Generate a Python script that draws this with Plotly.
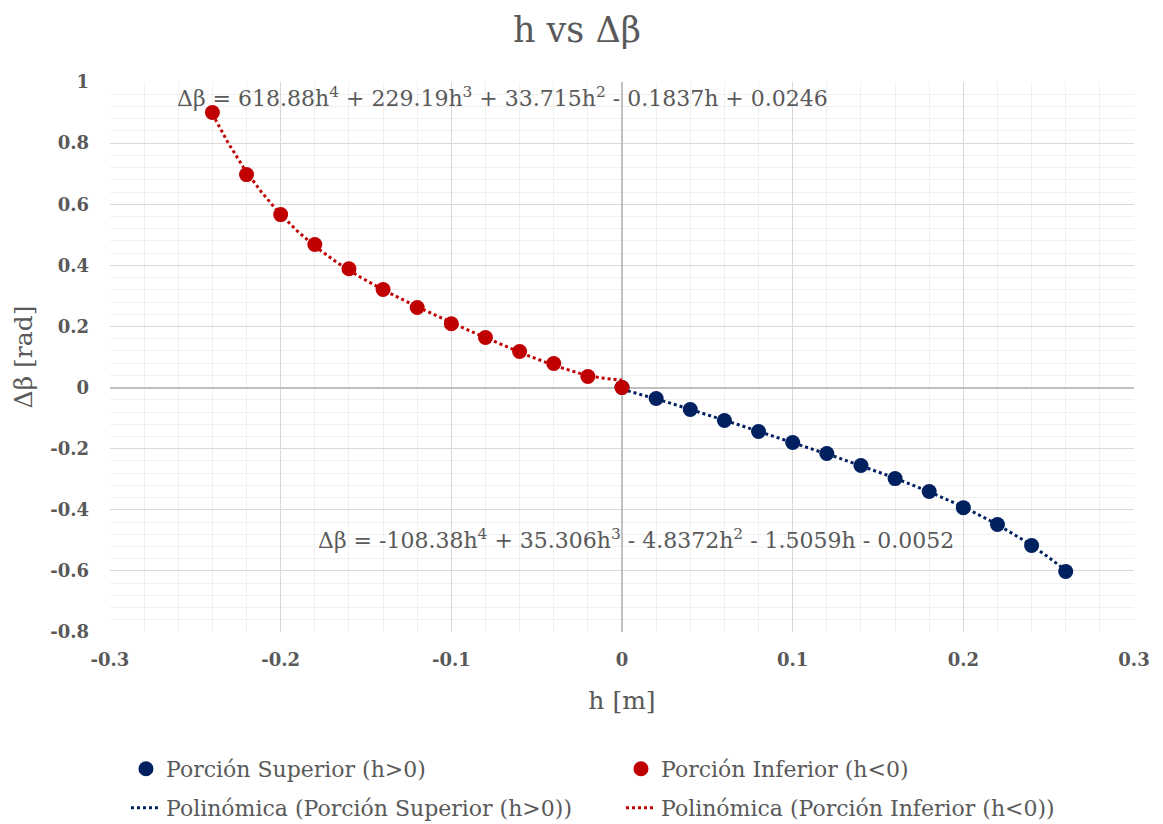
import plotly.graph_objects as go
import numpy as np

# Data
h_sup = [0.0, 0.02, 0.04, 0.06, 0.08, 0.10, 0.12, 0.14, 0.16, 0.18, 0.20, 0.22, 0.24, 0.26]
db_sup = [0.0, -0.036, -0.072, -0.108, -0.144, -0.180, -0.216, -0.255, -0.298, -0.340, -0.393, -0.448, -0.517, -0.602]
h_inf = [-0.24, -0.22, -0.20, -0.18, -0.16, -0.14, -0.12, -0.10, -0.08, -0.06, -0.04, -0.02, 0.0]
db_inf = [0.900, 0.697, 0.566, 0.468, 0.389, 0.321, 0.262, 0.209, 0.164, 0.118, 0.0785, 0.036, 0.0]

# Trendline coefficients (highest power first), as shown on chart
coef_sup = [-108.38, 35.306, -4.8372, -1.5059, -0.0052]
coef_inf = [618.88, 229.19, 33.715, -0.1837, 0.0246]

x_ticks = [-0.3, -0.2, -0.1, 0, 0.1, 0.2, 0.3]
x_tick_text = ["-0.3", "-0.2", "-0.1", "0", "0.1", "0.2", "0.3"]
y_ticks = [-0.8, -0.6, -0.4, -0.2, 0, 0.2, 0.4, 0.6, 0.8, 1]
y_tick_text = ["-0.8", "-0.6", "-0.4", "-0.2", "0", "0.2", "0.4", "0.6", "0.8", "1"]

BLUE = "#002060"
RED = "#C00000"
GRAY = "#595959"
FONT = "DejaVu Serif"

def fmt_eq(c):
    def term(v, p):
        s = ("%g" % abs(v))
        if p >= 2:
            return s + "h<sup>%d</sup>" % p
        if p == 1:
            return s + "h"
        return s
    n = len(c) - 1
    out = "Δβ = " + ("-" if c[0] < 0 else "") + term(c[0], n)
    for i, v in enumerate(c[1:], start=1):
        out += (" - " if v < 0 else " + ") + term(v, n - i)
    return out

xs_sup = np.linspace(min(h_sup), max(h_sup), 200)
xs_inf = np.linspace(min(h_inf), max(h_inf), 200)

fig = go.Figure()

fig.add_trace(go.Scatter(x=xs_sup, y=np.polyval(coef_sup, xs_sup), mode="lines",
                         line=dict(color=BLUE, width=3, dash="dot"),
                         name="Polinómica (Porción Superior (h>0))", legend="legend2"))
fig.add_trace(go.Scatter(x=xs_inf, y=np.polyval(coef_inf, xs_inf), mode="lines",
                         line=dict(color=RED, width=3, dash="dot"),
                         name="Polinómica (Porción Inferior (h<0))", legend="legend2"))
fig.add_trace(go.Scatter(x=h_sup, y=db_sup, mode="markers",
                         marker=dict(color=BLUE, size=15),
                         name="Porción Superior (h>0)", legend="legend"))
fig.add_trace(go.Scatter(x=h_inf, y=db_inf, mode="markers",
                         marker=dict(color=RED, size=15),
                         name="Porción Inferior (h<0)", legend="legend"))

fig.add_annotation(x=-0.2619, y=0.952, xref="x", yref="y", xanchor="left", yanchor="middle",
                   text=fmt_eq(coef_inf), showarrow=False,
                   font=dict(family=FONT, size=22, color=GRAY))
fig.add_annotation(x=-0.1793, y=-0.497, xref="x", yref="y", xanchor="left", yanchor="middle",
                   text=fmt_eq(coef_sup), showarrow=False,
                   font=dict(family=FONT, size=22, color=GRAY))

axis_common = dict(showline=False, linecolor="#d9d9d9", gridcolor="#d9d9d9", gridwidth=1,
                   zeroline=True, zerolinecolor="#bfbfbf", zerolinewidth=1.5,
                   tickfont=dict(family=FONT, size=18, color=GRAY, weight="bold"),
                   ticks="", mirror=False, automargin=False)

fig.update_xaxes(range=[-0.3, 0.3], tickvals=x_ticks, ticktext=x_tick_text,
                 minor=dict(dtick=0.02, tick0=0, showgrid=True, gridcolor="#f0f0f0", gridwidth=1),
                 title=dict(text="h [m]", font=dict(family=FONT, size=25, color=GRAY), standoff=22),
                 ticklabelstandoff=15, **axis_common)
fig.update_yaxes(range=[-0.8, 1], tickvals=y_ticks, ticktext=y_tick_text,
                 minor=dict(dtick=0.04, tick0=0, showgrid=True, gridcolor="#f0f0f0", gridwidth=1),
                 title=dict(text="Δβ [rad]", font=dict(family=FONT, size=25, color=GRAY), standoff=10),
                 ticklabelstandoff=20, **axis_common)

fig.update_layout(
    width=1155, height=816,
    margin=dict(l=102, r=29, t=74, b=192),
    paper_bgcolor="white", plot_bgcolor="white",
    title=dict(text="h vs Δβ", x=0.4926, xanchor="center", y=0.973, yanchor="middle",
               font=dict(family=FONT, size=35, color=GRAY)),
    legend=dict(orientation="h", x=0.0156, xref="paper", y=0.0674, yref="container",
                yanchor="middle", entrywidth=450, entrywidthmode="pixels",
                font=dict(family=FONT, size=22, color=GRAY), bgcolor="rgba(0,0,0,0)",
                traceorder="normal"),
    legend2=dict(orientation="h", x=0.0156, xref="paper", y=0.0196, yref="container",
                 yanchor="middle", entrywidth=450, entrywidthmode="pixels",
                 font=dict(family=FONT, size=22, color=GRAY), bgcolor="rgba(0,0,0,0)",
                 traceorder="normal"),
    showlegend=True,
)

fig.write_html("out.html")
